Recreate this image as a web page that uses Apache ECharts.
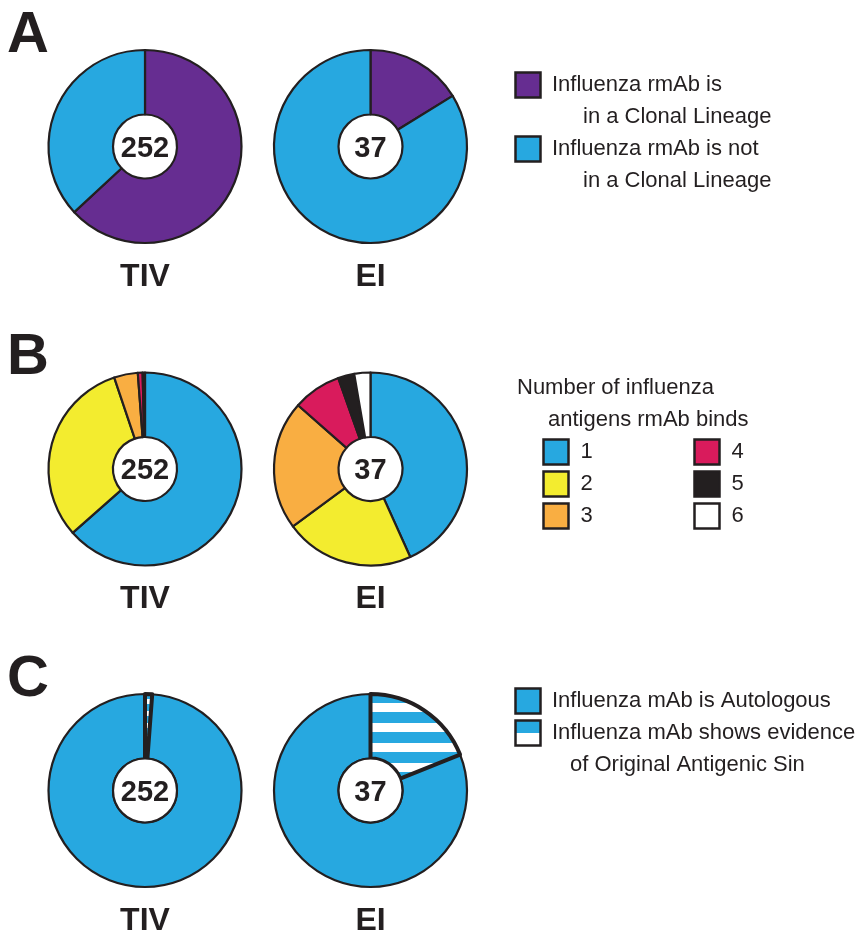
<!DOCTYPE html>
<html>
<head>
<meta charset="utf-8">
<title>Influenza rmAb pie charts</title>
<script src="https://cdn.jsdelivr.net/npm/echarts@6/dist/echarts.min.js"></script>
<style>
  html, body { margin: 0; padding: 0; background: #fff; }
  #chart { width: 862px; height: 935px; }
</style>
</head>
<body>
<div id="chart"></div>
<script>
// ---- data ----
const groups = ['TIV', 'EI'];
const panelLetters = ['A', 'B', 'C'];

// Panel A: clonal lineage membership
const lineageNames = ['In a Clonal Lineage', 'Not in a Clonal Lineage'];
const lineageTIV = [159, 93];
const lineageEI = [6, 31];
const lineageLegend = [
  ['Influenza rmAb is', 'in a Clonal Lineage'],
  ['Influenza rmAb is not', 'in a Clonal Lineage']
];

// Panel B: number of influenza antigens bound
const bindNames = ['1', '2', '3', '4', '5', '6'];
const bindTIV = [160, 79, 10, 2, 1, 0];
const bindEI = [16, 8, 8, 3, 1, 1];
const bindTitle = ['Number of influenza', 'antigens rmAb binds'];

// Panel C: autologous vs original antigenic sin
const oasNames = ['Autologous', 'Original Antigenic Sin'];
const autologous = [249, 30];
const originalSin = [3, 7];
const oasLegend = [
  ['Influenza mAb is Autologous'],
  ['Influenza mAb shows evidence', 'of Original Antigenic Sin']
];

// ---- styling ----
const INK = '#231f20';
const BLUE = '#27a8e0';
const PURPLE = '#662d91';
const YELLOW = '#f3ec2f';
const ORANGE = '#f9ae42';
const PINK = '#d91b5c';
const lineageColors = [PURPLE, BLUE];
const bindColors = [BLUE, YELLOW, ORANGE, PINK, INK, '#ffffff'];

const R_IN = 32;
const R_OUT = 96.5;
const colX = [145, 370.5];
const rowY = [146.5, 469, 790.5];
const groupLabelY = [277, 599, 921];
const letterY = [36, 358, 680];

// horizontal blue/white stripes used for the antigenic-sin slices
function stripes(period, white, offset) {
  const c = document.createElement('canvas');
  c.width = 8;
  c.height = period;
  const ctx = c.getContext('2d');
  ctx.fillStyle = BLUE;
  ctx.fillRect(0, 0, 8, period);
  ctx.fillStyle = '#ffffff';
  ctx.fillRect(0, offset, 8, white);
  return { image: c, repeat: 'repeat' };
}

function pieSeries(center, names, values, colors, opts) {
  opts = opts || {};
  const data = [];
  values.forEach((v, i) => {
    if (v > 0) {
      const item = { name: names[i], value: v, itemStyle: { color: colors[i] } };
      if (opts.items && opts.items[i]) Object.assign(item.itemStyle, opts.items[i]);
      data.push(item);
    }
  });
  return {
    type: 'pie',
    center: center,
    radius: [R_IN, R_OUT],
    startAngle: 90,
    clockwise: opts.clockwise !== false,
    silent: true,
    label: { show: false },
    labelLine: { show: false },
    emphasis: { disabled: true },
    itemStyle: { borderColor: INK, borderWidth: 2.2 },
    data: data
  };
}

const sum = arr => arr.reduce((a, b) => a + b, 0);

const series = [
  pieSeries([colX[0], rowY[0]], lineageNames, lineageTIV, lineageColors),
  pieSeries([colX[1], rowY[0]], lineageNames, lineageEI, lineageColors),
  pieSeries([colX[0], rowY[1]], bindNames, bindTIV, bindColors),
  pieSeries([colX[1], rowY[1]], bindNames, bindEI, bindColors),
  // counter-clockwise so the striped slice sits just right of 12 o'clock and is drawn last
  pieSeries([colX[0], rowY[2]], oasNames, [autologous[0], originalSin[0]],
    [BLUE, stripes(12, 5, 3)], { clockwise: false, items: [null, { borderWidth: 4 }] }),
  pieSeries([colX[1], rowY[2]], oasNames, [autologous[1], originalSin[1]],
    [BLUE, stripes(20, 9, 3)], { clockwise: false, items: [null, { borderWidth: 4 }] })
];

const totals = [
  [sum(lineageTIV), sum(lineageEI)],
  [sum(bindTIV), sum(bindEI)],
  [autologous[0] + originalSin[0], autologous[1] + originalSin[1]]
];

const graphic = [];
function text(x, y, str, font, align) {
  graphic.push({
    type: 'text', x: x, y: y, silent: true, z: 100,
    style: { text: str, font: font, fill: INK, align: align || 'left', verticalAlign: 'middle' }
  });
}
function box(x, yc, fill, z) {
  graphic.push({
    type: 'rect', silent: true, z: z || 100,
    shape: { x: x, y: yc - 12.5, width: 25, height: 25 },
    style: { fill: fill, stroke: INK, lineWidth: 2.5 }
  });
}

const BOLD = 'bold 32px "Liberation Sans", Arial, sans-serif';
const NUM = 'bold 29px "Liberation Sans", Arial, sans-serif';
const LETTER = 'bold 58px "Liberation Sans", Arial, sans-serif';
const REG = '22px "Liberation Sans", Arial, sans-serif';

panelLetters.forEach((L, r) => {
  text(7, letterY[r], L, LETTER, 'left');
  groups.forEach((g, c) => {
    text(colX[c], groupLabelY[r], g, BOLD, 'center');
    text(colX[c], rowY[r] + 2, String(totals[r][c]), NUM, 'center');
  });
});

// thin ring around the centre hole of the panel C pies
rowY.slice(2).forEach(y => {
  colX.forEach(x => {
    graphic.push({
      type: 'circle', silent: true, z: 90,
      shape: { cx: x, cy: y, r: R_IN },
      style: { fill: '#ffffff', stroke: INK, lineWidth: 2.2 }
    });
  });
});

// legend A
const legAy = [85, 149];
lineageLegend.forEach((lines, i) => {
  box(515.5, legAy[i], lineageColors[i]);
  text(552, legAy[i], lines[0], REG);
  text(583, legAy[i] + 32, lines[1], REG);
});

// legend B
text(517, 388, bindTitle[0], REG);
text(548, 420, bindTitle[1], REG);
const legBx = [543.5, 694.5];
const legBy = [452, 484, 516];
bindNames.forEach((n, i) => {
  const col = Math.floor(i / 3), row = i % 3;
  box(legBx[col], legBy[row], bindColors[i]);
  text(legBx[col] + 37, legBy[row], n, REG);
});

// legend C
const legCy = [701, 733];
box(515.5, legCy[0], BLUE);
graphic.push({
  type: 'rect', silent: true, z: 99,
  shape: { x: 515.5, y: legCy[1] - 12.5, width: 25, height: 12.5 },
  style: { fill: BLUE }
});
box(515.5, legCy[1], 'rgba(0,0,0,0)', 101);
text(552, legCy[0], oasLegend[0][0], REG);
text(552, legCy[1], oasLegend[1][0], REG);
text(570, legCy[1] + 32, oasLegend[1][1], REG);

const chart = echarts.init(document.getElementById('chart'), null, { renderer: 'canvas' });
chart.setOption({
  animation: false,
  backgroundColor: '#ffffff',
  series: series,
  graphic: graphic
});
</script>
</body>
</html>
